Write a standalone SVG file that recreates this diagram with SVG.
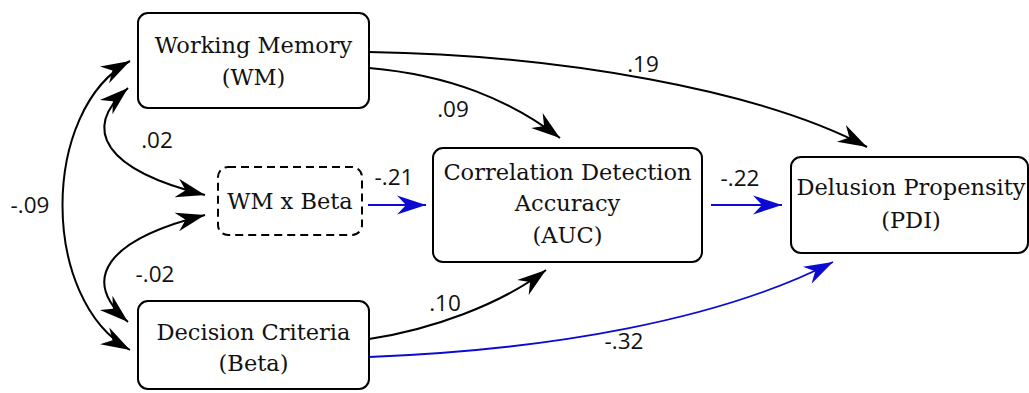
<svg xmlns="http://www.w3.org/2000/svg" width="1029" height="393" viewBox="0 0 1029 393">
  <style>
    .box { fill: #fff; stroke: #000; stroke-width: 2; }
    .dash { fill: #fff; stroke: #000; stroke-width: 2; stroke-dasharray: 8 5; }
    .node { font-family: "DejaVu Serif", "Liberation Serif", serif; font-size: 22.5px; fill: #111; text-anchor: middle; }
    .coef { font-family: "Open Sans", "Noto Sans", "DejaVu Sans", sans-serif; font-size: 22.5px; fill: #111; text-anchor: middle; }
    .path { fill: none; stroke: #000; stroke-width: 2; }
    .path.neg { stroke: #0a0ad2; stroke-width: 1.8; }
  </style>
  <defs>
    <marker id="arrowK" markerUnits="userSpaceOnUse" markerWidth="40" markerHeight="40" refX="0" refY="0" orient="auto-start-reverse" overflow="visible">
      <path d="M0,0 L-29,-9.5 L-20,0 L-29,9.5 Z" fill="#000"/>
    </marker>
    <marker id="arrowB" markerUnits="userSpaceOnUse" markerWidth="40" markerHeight="40" refX="0" refY="0" orient="auto" overflow="visible">
      <path d="M0,0 L-29,-9.5 L-20,0 L-29,9.5 Z" fill="#0a0ad2"/>
    </marker>
  </defs>

  <rect width="1029" height="393" fill="#fff"/>

  <!-- connectors -->
  <g id="connectors">
    <path class="path" d="M369,52 C560,55 760,90 867,147" marker-end="url(#arrowK)"/>
    <path class="path" d="M369,68 C450,75 510,100 560,138" marker-end="url(#arrowK)"/>
    <path class="path" d="M369,339 C430,330 500,305 546,270" marker-end="url(#arrowK)"/>
    <path class="path neg" d="M369,357 C550,350 720,320 833,262" marker-end="url(#arrowB)"/>
    <path class="path neg" d="M368,205 L426,205" marker-end="url(#arrowB)"/>
    <path class="path neg" d="M711,205 L782,205" marker-end="url(#arrowB)"/>
    <path class="path" d="M130,61 C40,110 40,300 130,350" marker-start="url(#arrowK)" marker-end="url(#arrowK)"/>
    <path class="path" d="M128,88 C80,130 105,170 205,195" marker-start="url(#arrowK)" marker-end="url(#arrowK)"/>
    <path class="path" d="M205,215 C105,240 80,280 128,322" marker-start="url(#arrowK)" marker-end="url(#arrowK)"/>

    <text class="coef" x="643" y="72">.19</text>
    <text class="coef" x="453" y="117">.09</text>
    <text class="coef" x="394" y="185">-.21</text>
    <text class="coef" x="740" y="186">-.22</text>
    <text class="coef" x="445" y="311">.10</text>
    <text class="coef" x="624" y="349">-.32</text>
    <text class="coef" x="157" y="148">.02</text>
    <text class="coef" x="155" y="282">-.02</text>
    <text class="coef" x="30" y="213">-.09</text>
  </g>

  <g id="wm">
    <rect class="box" x="138" y="13" width="231" height="95" rx="10"/>
    <text class="node" x="253.5" y="53">Working Memory</text>
    <text class="node" x="253.5" y="85">(WM)</text>
  </g>

  <g id="interaction">
    <rect class="dash" x="218" y="167" width="144" height="68" rx="10"/>
    <text class="node" x="290" y="209">WM x Beta</text>
  </g>

  <g id="beta">
    <rect class="box" x="138" y="301" width="231" height="88" rx="10"/>
    <text class="node" x="253.5" y="340">Decision Criteria</text>
    <text class="node" x="253.5" y="371">(Beta)</text>
  </g>

  <g id="auc">
    <rect class="box" x="433" y="148" width="269" height="114" rx="10"/>
    <text class="node" x="567.5" y="180">Correlation Detection</text>
    <text class="node" x="567.5" y="211">Accuracy</text>
    <text class="node" x="567.5" y="243">(AUC)</text>
  </g>

  <g id="pdi">
    <rect class="box" x="791" y="157" width="237" height="96" rx="10"/>
    <text class="node" x="911" y="195">Delusion Propensity</text>
    <text class="node" x="911" y="228">(PDI)</text>
  </g>
</svg>
